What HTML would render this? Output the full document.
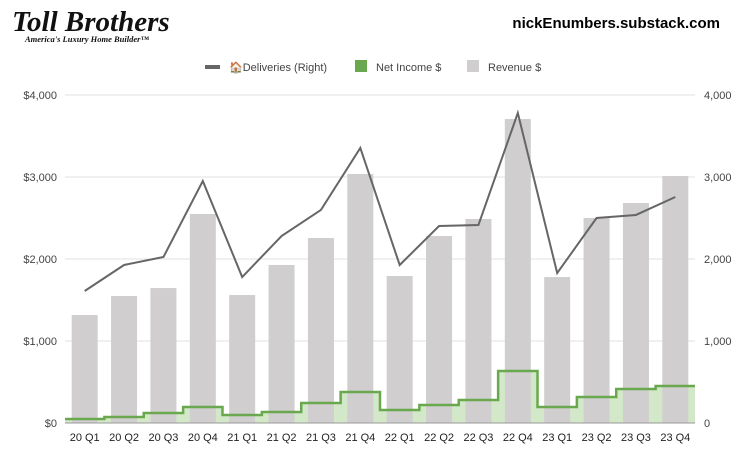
<!DOCTYPE html>
<html><head><meta charset="utf-8"><style>
body{margin:0;background:#fff;font-family:"Liberation Sans",sans-serif}
#wrap{position:relative;width:750px;height:463px;overflow:hidden}
</style></head><body>
<div id="wrap">
<svg width="750" height="463" id="chart">
<text x="12" y="31" font-family="Liberation Serif,serif" font-style="italic" font-weight="bold" font-size="29" fill="#111">Toll Brothers</text>
<text x="25" y="42" font-family="Liberation Serif,serif" font-style="italic" font-weight="bold" font-size="8.5" fill="#111">America's Luxury Home Builder™</text>
<text x="720" y="28" text-anchor="end" font-weight="bold" font-size="15" fill="#000">nickEnumbers.substack.com</text>
<g font-size="11" fill="#444">
<rect x="205" y="65" width="15" height="4" fill="#666"/>
<text x="229" y="71">🏠Deliveries (Right)</text>
<rect x="355" y="60" width="12" height="12" fill="#6aa84f"/>
<text x="376" y="71">Net Income $</text>
<rect x="467" y="60" width="12" height="12" fill="#d0cece"/>
<text x="488" y="71">Revenue $</text>
</g>
<g id="plot"></g>
</svg>
</div>
<script>
const categories=["20 Q1","20 Q2","20 Q3","20 Q4","21 Q1","21 Q2","21 Q3","21 Q4","22 Q1","22 Q2","22 Q3","22 Q4","23 Q1","23 Q2","23 Q3","23 Q4"];
const revenue=[1317,1549,1646,2549,1561,1927,2256,3037,1793,2280,2488,3707,1780,2500,2683,3012];
const deliveries=[1610,1927,2024,2951,1780,2280,2598,3354,1927,2402,2415,3780,1829,2500,2537,2756];
const netIncome=[49,73,122,195,98,134,244,378,159,220,280,634,195,317,415,451];
const leftTicks=["$0","$1,000","$2,000","$3,000","$4,000"];
const rightTicks=["0","1,000","2,000","3,000","4,000"];
const tickVals=[0,1000,2000,3000,4000];
const X0=65,X1=695,Y0=423,Y1=95,MAX=4000;
const band=(X1-X0)/categories.length;
const x=i=>X0+band*(i+0.5);
const y=v=>Y0-(v/MAX)*(Y0-Y1);
const NS="http://www.w3.org/2000/svg";
const g=document.getElementById('plot');
function mk(t,a){const e=document.createElementNS(NS,t);for(const k in a)e.setAttribute(k,a[k]);g.appendChild(e);return e;}
tickVals.forEach((v,i)=>{
 if(v>0){const l=mk('line',{x1:X0,x2:X1,y1:y(v),y2:y(v),stroke:'#e0e0e0','stroke-width':1});
 
 }
 const t=mk('text',{x:57,y:y(v)+4,'text-anchor':'end','font-size':11,fill:'#444'});t.textContent=leftTicks[i];
 
 
 const r=mk('text',{x:704,y:y(v)+4,'font-size':11,fill:'#444'});r.textContent=rightTicks[i];
 
 
});
let pts=[];netIncome.forEach((v,i)=>{pts.push([X0+band*i,y(v)],[X0+band*(i+1),y(v)]);});
const line=pts.map(p=>p.join(',')).join(' ');
const area=mk('polygon',{points:`${X0},${Y0} ${line} ${X1},${Y0}`,fill:'#d3e8c8'});


revenue.forEach((v,i)=>{
 const b=mk('rect',{x:x(i)-13,y:y(v),width:26,height:Y0-y(v),fill:'#d0cece'});
 
 
 const t=mk('text',{x:x(i),y:441,'text-anchor':'middle','font-size':11,fill:'#222'});t.textContent=categories[i];
 
 
});
const nl=mk('polyline',{points:line,fill:'none',stroke:'#6aa84f','stroke-width':2.5});


const ax=mk('line',{x1:X0,x2:X1,y1:Y0,y2:Y0,stroke:'#999','stroke-width':1});


const dl=mk('polyline',{points:deliveries.map((v,i)=>x(i)+','+y(v)).join(' '),fill:'none',stroke:'#666','stroke-width':2});


</script>
</body></html>
